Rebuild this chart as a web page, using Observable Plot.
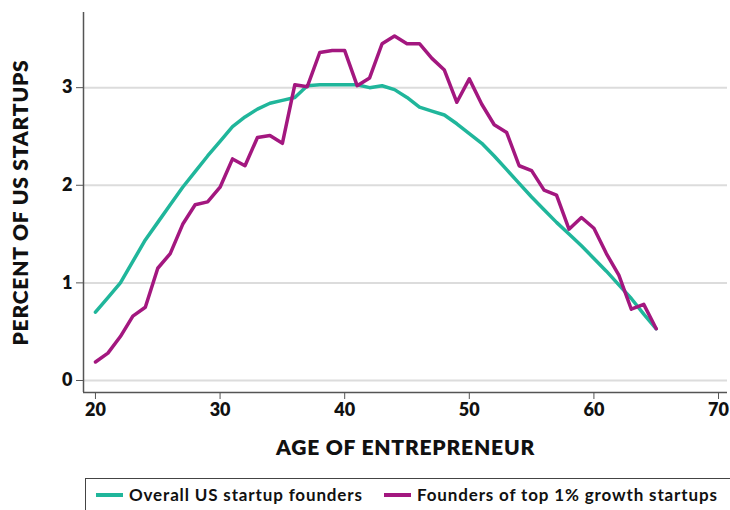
<!DOCTYPE html>
<html>
<head>
<meta charset="utf-8">
<script src="https://cdn.jsdelivr.net/npm/d3@7"></script>
<script src="https://cdn.jsdelivr.net/npm/@observablehq/plot@0.6"></script>
<style>
  html, body { margin: 0; padding: 0; background: #fff; width: 730px; height: 510px; overflow: hidden; }
  #chart { position: relative; }
  .legend {
    position: absolute; left: 85px; top: 478px; width: 660px; height: 40px;
    border: 1.5px solid #444; box-sizing: border-box;
    font-family: "Lato", sans-serif; font-weight: 700; font-size: 17px; letter-spacing: 0.85px; color: #111;
  }
  .item { position: absolute; top: 5px; display: flex; align-items: center; white-space: nowrap; }
  .sw { display: inline-block; width: 27px; height: 4px; margin-right: 6px; }
</style>
</head>
<body>
<div id="chart"></div>
<script>
const ages = d3.range(20, 66);
const overall = [0.70, 0.85, 1.00, 1.22, 1.44, 1.62, 1.80, 1.98, 2.14, 2.30,
                 2.45, 2.60, 2.70, 2.78, 2.84, 2.87, 2.90, 3.02, 3.03, 3.03,
                 3.03, 3.03, 3.00, 3.02, 2.98, 2.90, 2.80, 2.76, 2.72, 2.63,
                 2.53, 2.43, 2.30, 2.16, 2.02, 1.88, 1.75, 1.62, 1.50, 1.38,
                 1.25, 1.12, 0.98, 0.84, 0.68, 0.53];
const top1 = [0.19, 0.28, 0.45, 0.66, 0.75, 1.15, 1.30, 1.60, 1.80, 1.83,
              1.98, 2.27, 2.20, 2.49, 2.51, 2.43, 3.03, 3.01, 3.36, 3.38,
              3.38, 3.02, 3.10, 3.45, 3.53, 3.45, 3.45, 3.30, 3.18, 2.85,
              3.09, 2.83, 2.62, 2.54, 2.20, 2.15, 1.95, 1.90, 1.55, 1.67,
              1.56, 1.30, 1.08, 0.73, 0.78, 0.53];
const seriesNames = ["Overall US startup founders", "Founders of top 1% growth startups"];
const seriesColors = ["#20b69b", "#a3177f"];
const xTicks = [20, 30, 40, 50, 60, 70];
const yTicks = [0, 1, 2, 3];
const xDomain = [19.04, 70.72];
const yDomain = [-0.123, 3.77];

const rows = [];
ages.forEach((a, i) => {
  rows.push({age: a, value: overall[i], series: seriesNames[0]});
  rows.push({age: a, value: top1[i], series: seriesNames[1]});
});

const font = "Lato, sans-serif";
const chart = Plot.plot({
  width: 730,
  height: 470,
  marginLeft: 83,
  marginRight: 3,
  marginTop: 12,
  marginBottom: 78,
  style: {fontFamily: font, background: "white"},
  x: {domain: xDomain, ticks: xTicks},
  y: {domain: yDomain, ticks: yTicks},
  color: {domain: seriesNames, range: seriesColors},
  marks: [
    Plot.ruleY(yTicks, {stroke: "#dcdcdc", strokeWidth: 2}),
    Plot.ruleX([xDomain[0]], {stroke: "#555", strokeWidth: 1.5}),
    Plot.ruleY([yDomain[0]], {stroke: "#555", strokeWidth: 1.5}),
    Plot.axisY({ticks: yTicks, tickFormat: d3.format("d"), tickSize: 7, tickPadding: 4, stroke: "#555",
      fontSize: 18, fontWeight: 800, fill: "#111",
      label: "PERCENT OF US STARTUPS", labelAnchor: "center", labelOffset: 70, labelArrow: "none"}),
    Plot.axisX({ticks: xTicks, tickFormat: d3.format("d"), tickSize: 7, tickPadding: 4, stroke: "#555",
      fontSize: 18, fontWeight: 800, fill: "#111",
      label: "AGE OF ENTREPRENEUR", labelAnchor: "center", labelOffset: 62, labelArrow: "none"}),
    Plot.line(rows, {x: "age", y: "value", z: "series", stroke: "series",
      strokeWidth: 3.5, strokeLinejoin: "round", strokeLinecap: "round"})
  ]
});
const svg = d3.select(chart);
svg.selectAll("[aria-label='y-axis label'] text, [aria-label='x-axis label'] text")
  .attr("font-size", 21).attr("font-weight", 800).attr("fill", "#111")
  .attr("letter-spacing", "0.8px");
document.getElementById("chart").appendChild(chart);

const legend = document.createElement("div");
legend.className = "legend";
const lefts = [10, 298];
seriesNames.forEach((n, i) => {
  const it = document.createElement("div");
  it.className = "item";
  it.style.left = lefts[i] + "px";
  it.innerHTML = `<span class="sw" style="background:${seriesColors[i]}"></span><span>${n}</span>`;
  legend.appendChild(it);
});
document.getElementById("chart").appendChild(legend);
</script>
</body>
</html>
